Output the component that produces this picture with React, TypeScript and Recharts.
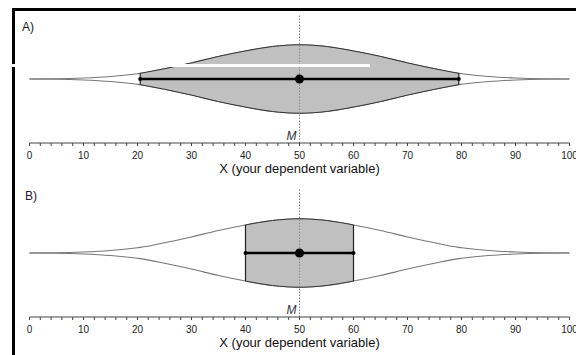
import React from "react";
import {
  ComposedChart,
  Area,
  XAxis,
  YAxis,
  ReferenceLine,
  ReferenceDot,
  Label,
} from "recharts";

// x positions (value of X) and the half-height of the distribution shape there,
// as a share of the height at the mean
const xValues = [
  0, 5, 10, 15, 20, 20.5, 25, 30, 35, 40, 45, 50, 55, 60, 65, 70, 75, 79.5, 80,
  85, 90, 95, 100,
];
const halfWidth = [
  0, 0.006, 0.03, 0.075, 0.155, 0.165, 0.3, 0.47, 0.66, 0.82, 0.95, 1, 0.95,
  0.82, 0.66, 0.47, 0.3, 0.165, 0.155, 0.075, 0.03, 0.006, 0,
];

const mean = 50;
const intervalA = [20.5, 79.5]; // panel A shaded range
const intervalB = [40, 60]; // panel B shaded range

const majorTicks = [0, 10, 20, 30, 40, 50, 60, 70, 80, 90, 100];
const tickLabels = ["0", "10", "20", "30", "40", "50", "60", "70", "80", "90", "100"];
const minorTicks = Array.from({ length: 51 }, (_, i) => i * 2);

const axisTitle = "X (your dependent variable)";
const FONT = "'Liberation Sans', Arial, sans-serif";
const Y_MAX = 1.87;

const halfAt = (x: number) => halfWidth[xValues.indexOf(x)] ?? 0;

const buildRows = (lo: number, hi: number) =>
  xValues.map((x, i) => ({
    x,
    band: [-halfWidth[i], halfWidth[i]],
    shade: x >= lo && x <= hi ? [-halfWidth[i], halfWidth[i]] : null,
  }));

const renderTick = (props: any) => {
  const { x, y, payload } = props;
  const idx = majorTicks.indexOf(payload.value);
  if (idx < 0) return <g />;
  return (
    <text
      x={x}
      y={y}
      dy={11}
      textAnchor="middle"
      fontSize={10}
      fontFamily={FONT}
      fill="#222"
    >
      {tickLabels[idx]}
    </text>
  );
};

interface PanelProps {
  interval: number[];
  height: number;
  axisHeight: number;
  marginTop: number;
  titleOffset: number;
}

const Panel: React.FC<PanelProps> = ({
  interval,
  height,
  axisHeight,
  marginTop,
  titleOffset,
}) => {
  const [lo, hi] = interval;
  const rows = buildRows(lo, hi);

  return (
    <ComposedChart
      width={576}
      height={height}
      data={rows}
      margin={{ top: marginTop, right: 6.5, bottom: 0, left: 29.5 }}
    >
      <XAxis
        dataKey="x"
        type="number"
        domain={[0, 100]}
        ticks={minorTicks}
        interval={0}
        tick={renderTick}
        tickSize={3}
        tickMargin={2}
        height={axisHeight}
        axisLine={{ stroke: "#444" }}
        tickLine={{ stroke: "#444" }}
      >
        <Label
          value={axisTitle}
          position="insideBottom"
          offset={titleOffset}
          style={{ fontSize: 13, fontFamily: FONT, fill: "#111" }}
        />
      </XAxis>
      <YAxis hide type="number" domain={[-Y_MAX, Y_MAX]} />

      {/* full distribution outline */}
      <Area
        dataKey="band"
        type="monotone"
        stroke="#777"
        strokeWidth={1.1}
        fill="#ffffff"
        fillOpacity={1}
        dot={false}
        activeDot={false}
        isAnimationActive={false}
      />
      {/* shaded interval */}
      <Area
        dataKey="shade"
        type="monotone"
        stroke="#333"
        strokeWidth={1}
        fill="#c0c0c0"
        fillOpacity={1}
        dot={false}
        activeDot={false}
        connectNulls={false}
        isAnimationActive={false}
      />

      {/* edges of the shaded part */}
      <ReferenceLine
        segment={[
          { x: lo, y: -halfAt(lo) },
          { x: lo, y: halfAt(lo) },
        ]}
        stroke="#222"
        strokeWidth={1.2}
      />
      <ReferenceLine
        segment={[
          { x: hi, y: -halfAt(hi) },
          { x: hi, y: halfAt(hi) },
        ]}
        stroke="#222"
        strokeWidth={1.2}
      />

      <ReferenceLine
        x={mean}
        stroke="#888"
        strokeWidth={1}
        strokeDasharray="1.5 1.5"
      >
        <Label
          value="M"
          position="insideBottomRight"
          offset={3}
          style={{ fontSize: 12, fontStyle: "italic", fontFamily: FONT, fill: "#333" }}
        />
      </ReferenceLine>

      {/* interval bar */}
      <ReferenceLine
        segment={[
          { x: lo, y: 0 },
          { x: hi, y: 0 },
        ]}
        stroke="#000"
        strokeWidth={2.5}
      />
      <ReferenceDot x={lo} y={0} r={2} fill="#000" stroke="none" />
      <ReferenceDot x={hi} y={0} r={2} fill="#000" stroke="none" />
      <ReferenceDot x={mean} y={0} r={4.5} fill="#000" stroke="none" />
    </ComposedChart>
  );
};

const panelLabel = (text: string, left: number, top: number) => (
  <div
    style={{
      position: "absolute",
      left,
      top,
      fontSize: 12,
      fontFamily: FONT,
      color: "#1a1a2a",
      lineHeight: "13px",
    }}
  >
    {text}
  </div>
);

export default function App() {
  return (
    <div
      style={{
        position: "absolute",
        left: 0,
        top: 0,
        width: 576,
        height: 355,
        overflow: "hidden",
        background: "#fff",
        fontFamily: FONT,
      }}
    >
      <div style={{ position: "absolute", left: 0, top: 0 }}>
        <Panel interval={intervalA} height={180} axisHeight={37} marginTop={15} titleOffset={7} />
      </div>
      <div style={{ position: "absolute", left: 0, top: 174 }}>
        <Panel interval={intervalB} height={181} axisHeight={38} marginTop={15} titleOffset={8} />
      </div>

      {panelLabel("A)", 22, 21)}
      {panelLabel("B)", 25, 190)}

      {/* frame */}
      <div style={{ position: "absolute", left: 12, top: 8, width: 564, height: 2.5, background: "#000" }} />
      <div style={{ position: "absolute", left: 12, top: 8, width: 3, height: 347, background: "#000" }} />
      <div style={{ position: "absolute", left: 0, top: 64, width: 370, height: 2.5, background: "#fff" }} />
    </div>
  );
}
